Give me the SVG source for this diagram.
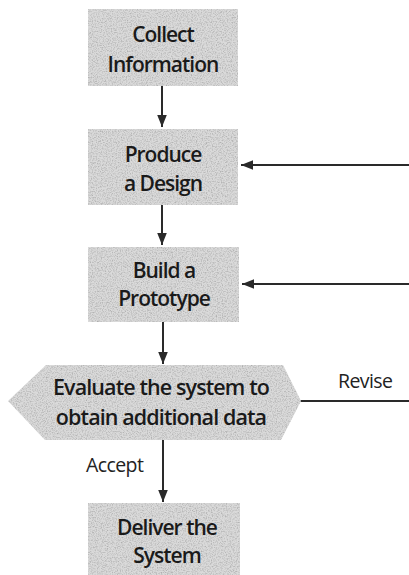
<svg xmlns="http://www.w3.org/2000/svg" width="409" height="575" viewBox="0 0 409 575">
<style>
.box{fill:#dadada;stroke:none}
.t{font-family:"Open Sans","DejaVu Sans",sans-serif;font-size:21px;font-weight:600;fill:#1a1a1a;text-anchor:middle;letter-spacing:-1px}
.h{font-size:21.5px;letter-spacing:-0.9px}
.lbl{font-family:"Open Sans","DejaVu Sans",sans-serif;font-size:19.5px;fill:#222;letter-spacing:-0.6px}
.c{stroke:#2a2a2a;stroke-width:2;fill:none}
</style>
<defs>
<marker id="ah" viewBox="0 0 10 10" refX="10" refY="5" markerWidth="6" markerHeight="6" orient="auto" markerUnits="strokeWidth">
<path d="M0,1 L10,5 L0,9 Z" fill="#2a2a2a"/>
</marker>
<filter id="grain" x="0" y="0" width="100%" height="100%">
<feTurbulence type="fractalNoise" baseFrequency="0.8" numOctaves="2" seed="3" result="n"/>
<feColorMatrix in="n" type="matrix" values="0 0 0 0 0.6  0 0 0 0 0.6  0 0 0 0 0.6  0 0 0 -2.2 1.3" result="g"/>
<feComposite in="g" in2="SourceGraphic" operator="in" result="gg"/>
<feBlend in="SourceGraphic" in2="gg" mode="multiply"/>
</filter>
</defs>
<g id="connectors">
<line class="c" x1="162" y1="86" x2="162" y2="127" marker-end="url(#ah)"/>
<line class="c" x1="162" y1="205" x2="162" y2="245" marker-end="url(#ah)"/>
<line class="c" x1="163" y1="322" x2="163" y2="364" marker-end="url(#ah)"/>
<line class="c" x1="163" y1="440" x2="163" y2="502" marker-end="url(#ah)"/>
<line class="c" x1="409" y1="165" x2="241" y2="165" marker-end="url(#ah)"/>
<line class="c" x1="409" y1="284" x2="242" y2="284" marker-end="url(#ah)"/>
<line class="c" x1="300" y1="401" x2="409" y2="401"/>
<text class="lbl" x="338" y="388">Revise</text>
<text class="lbl" x="86" y="472">Accept</text>
</g>
<g id="collect">
<rect class="box" x="88" y="9" width="150" height="77" filter="url(#grain)"/>
<text class="t" x="163" y="42">Collect</text>
<text class="t" x="163" y="72">Information</text>
</g>
<g id="design">
<rect class="box" x="88" y="129" width="150" height="76" filter="url(#grain)"/>
<text class="t" x="163" y="162">Produce</text>
<text class="t" x="163" y="191">a Design</text>
</g>
<g id="prototype">
<rect class="box" x="88" y="247" width="151" height="75" filter="url(#grain)"/>
<text class="t" x="164" y="278">Build a</text>
<text class="t" x="164" y="306">Prototype</text>
</g>
<g id="evaluate">
<polygon class="box" points="46,365 283,365 301,401 281,440 45,440 8,401" filter="url(#grain)"/>
<text class="t h" x="161" y="395">Evaluate the system to</text>
<text class="t h" x="161" y="425">obtain additional data</text>
</g>
<g id="deliver">
<rect class="box" x="88" y="503" width="152" height="72" filter="url(#grain)"/>
<text class="t" x="167" y="535">Deliver the</text>
<text class="t" x="167" y="563">System</text>
</g>
</svg>
